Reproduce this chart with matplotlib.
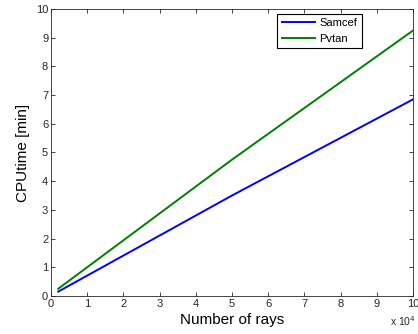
import matplotlib.pyplot as plt
from matplotlib.ticker import FuncFormatter

# number of rays and CPU time (minutes)
rays = [2000, 50000, 100000]
samcef_time = [0.15, 3.5, 6.85]
pvtan_time = [0.25, 4.75, 9.25]

plt.rcParams['font.family'] = ['Liberation Sans', 'DejaVu Sans']

fig = plt.figure(figsize=(4.18, 3.34), dpi=100)
ax = fig.add_axes([0.122, 0.114, 0.866, 0.859])

ax.plot(rays, samcef_time, color='#0000ff', lw=1.4, label='Samcef')
ax.plot(rays, pvtan_time, color='#008000', lw=1.4, label='Pvtan')

ax.set_xlim(0, 100000)
ax.set_ylim(0, 10)
ax.set_xticks(range(0, 100001, 10000))
ax.set_yticks(range(0, 11))
ax.xaxis.set_major_formatter(FuncFormatter(lambda v, p: f'{v / 1e4:g}'))
ax.tick_params(direction='in', top=True, right=True, length=3, width=0.6,
               labelsize=8, colors='#262626', pad=2)
for s in ax.spines.values():
    s.set_linewidth(0.6)
    s.set_color('#262626')

ax.set_xlabel('Number of rays', fontsize=11, labelpad=3)
ax.set_ylabel('CPUtime [min]', fontsize=11, labelpad=4)
ax.text(1.008, -0.088, r'x 10$^4$', transform=ax.transAxes, ha='right', va='center',
        fontsize=7.5, color='#262626')

leg = ax.legend(loc='upper right', bbox_to_anchor=(0.859, 0.983), borderaxespad=0,
                fontsize=8, fancybox=False, framealpha=1, edgecolor='black',
                handlelength=3.0, borderpad=0.4, labelspacing=0.5, handletextpad=0.4)
leg.get_frame().set_linewidth(0.8)

fig.savefig('out.png', dpi=100, facecolor='white')
